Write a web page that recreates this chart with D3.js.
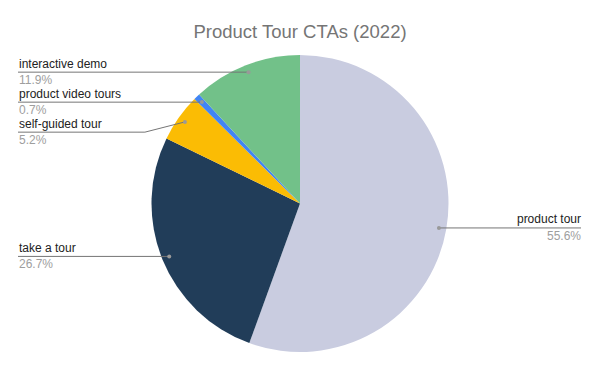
<!DOCTYPE html>
<html>
<head>
<meta charset="utf-8">
<script src="https://cdn.jsdelivr.net/npm/d3@7"></script>
<style>
  body { margin: 0; background: #fff; }
  svg { display: block; font-family: "Liberation Sans", Arial, sans-serif; }
</style>
</head>
<body>
<svg id="chart" width="600" height="371"></svg>
<script>
// data, clockwise from 12 o'clock
var categories = ["product tour", "take a tour", "self-guided tour", "product video tours", "interactive demo"];
var values = [55.6, 26.7, 5.2, 0.7, 11.9];
var colors = ["#c9cce0", "#213d59", "#fbbc04", "#4285f4", "#72c189"];

var width = 600, height = 371;
var cx = 300, cy = 203.5, radius = 148.5;

var svg = d3.select("#chart");

svg.append("text")
    .attr("x", width / 2)
    .attr("y", 38)
    .attr("text-anchor", "middle")
    .style("font-size", "18.5px")
    .style("fill", "#757575")
    .text("Product Tour CTAs (2022)");

var data = categories.map(function (c, i) {
    return { name: c, value: values[i], color: colors[i] };
});

var pie = d3.pie().sort(null).value(function (d) { return d.value; });
var arcs = pie(data);

var arc = d3.arc().innerRadius(0).outerRadius(radius);
var anchorArc = d3.arc().innerRadius(radius * 0.95).outerRadius(radius * 0.95);

var g = svg.append("g").attr("transform", "translate(" + cx + "," + cy + ")");

g.selectAll("path.slice")
    .data(arcs)
    .enter().append("path")
    .attr("class", "slice")
    .attr("d", arc)
    .attr("fill", function (d) { return d.data.color; });

// label positions: left side stacked top-down with min spacing
var labels = arcs.map(function (d) {
    var p = anchorArc.centroid(d);
    var mid = (d.startAngle + d.endAngle) / 2;
    return { d: d, ax: p[0] + cx, ay: p[1] + cy, right: mid < Math.PI, y: p[1] + cy };
});

var left = labels.filter(function (l) { return !l.right; }).sort(function (a, b) { return a.ay - b.ay; });
for (var i = 1; i < left.length; i++) {
    if (left[i].y - left[i - 1].y < 30) left[i].y = left[i - 1].y + 30;
}

var lg = svg.append("g");

labels.forEach(function (l) {
    var x0 = l.right ? 581 : 18;
    var elbow = Math.abs(l.y - l.ay) > 1 ? l.ax + (l.right ? 30 : -40) : l.ax;
    var pts = [[x0, l.y], [elbow, l.y], [l.ax, l.ay]];
    lg.append("path")
        .attr("d", d3.line()(pts))
        .attr("fill", "none")
        .attr("stroke", "#757575")
        .attr("stroke-width", 1);
    lg.append("circle")
        .attr("cx", l.ax)
        .attr("cy", l.ay)
        .attr("r", 2)
        .attr("fill", "#999");
    var tx = l.right ? 581 : 19;
    var anchor = l.right ? "end" : "start";
    lg.append("text")
        .attr("x", tx)
        .attr("y", l.y - 4.5)
        .attr("text-anchor", anchor)
        .style("font-size", "12px")
        .style("fill", "#222")
        .text(l.d.data.name);
    lg.append("text")
        .attr("x", tx)
        .attr("y", l.y + 12)
        .attr("text-anchor", anchor)
        .style("font-size", "12px")
        .style("fill", "#9e9e9e")
        .text(l.d.data.value.toFixed(1) + "%");
});
</script>
</body>
</html>
